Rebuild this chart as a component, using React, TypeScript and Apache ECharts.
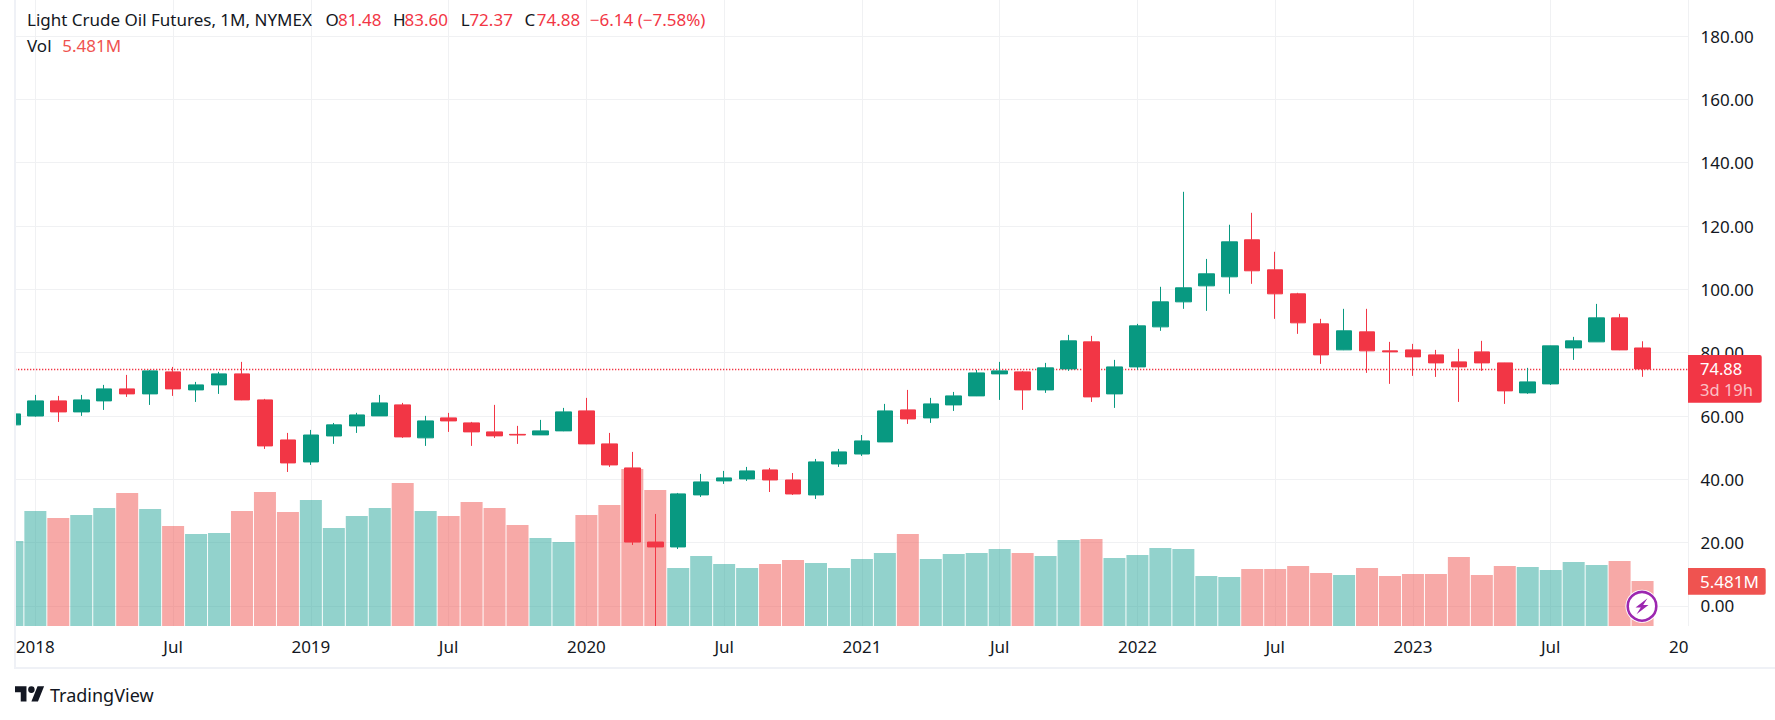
import React, { useEffect, useRef } from "react";
import * as echarts from "echarts";

const months = [
  "2017-12",
  "2018-01", "2018-02", "2018-03", "2018-04", "2018-05", "2018-06", "2018-07", "2018-08", "2018-09", "2018-10", "2018-11", "2018-12",
  "2019-01", "2019-02", "2019-03", "2019-04", "2019-05", "2019-06", "2019-07", "2019-08", "2019-09", "2019-10", "2019-11", "2019-12",
  "2020-01", "2020-02", "2020-03", "2020-04", "2020-05", "2020-06", "2020-07", "2020-08", "2020-09", "2020-10", "2020-11", "2020-12",
  "2021-01", "2021-02", "2021-03", "2021-04", "2021-05", "2021-06", "2021-07", "2021-08", "2021-09", "2021-10", "2021-11", "2021-12",
  "2022-01", "2022-02", "2022-03", "2022-04", "2022-05", "2022-06", "2022-07", "2022-08", "2022-09", "2022-10", "2022-11", "2022-12",
  "2023-01", "2023-02", "2023-03", "2023-04", "2023-05", "2023-06", "2023-07", "2023-08", "2023-09", "2023-10", "2023-11",
];
const opens = [
  57.2,
  60.0, 64.77, 61.29, 64.77, 68.56, 66.98, 73.93, 68.24, 69.82, 73.3, 65.08, 52.44,
  45.49, 53.7, 56.87, 60.03, 63.51, 53.1, 59.4, 57.82, 54.98, 54.2, 54.03, 55.3,
  61.61, 51.19, 43.6, 20.2, 18.65, 35.08, 39.5, 40.13, 42.97, 39.8, 35.07, 44.86,
  48.0, 51.81, 61.93, 59.4, 63.5, 66.35, 73.3, 73.93, 68.24, 74.88, 83.41, 66.98,
  75.5, 88.15, 96.05, 101.1, 103.95, 115.64, 106.16, 98.58, 89.1, 80.89, 86.57, 80.57,
  80.88, 79.3, 77.09, 80.25, 76.77, 67.3, 70.14, 81.5, 83.41, 90.99, 81.48,
];
const highs = [
  60.7,
  66.66, 66.35, 66.66, 69.82, 72.98, 74.56, 75.5, 70.77, 73.93, 77.09, 65.4, 54.66,
  55.6, 57.8, 61.0, 66.66, 64.14, 60.04, 60.98, 58.14, 63.51, 56.88, 58.77, 62.56,
  65.72, 54.66, 48.66, 29.07, 35.7, 41.71, 42.66, 43.92, 43.6, 42.0, 46.44, 49.6,
  54.0, 63.82, 68.24, 65.72, 67.6, 74.56, 77.09, 74.25, 76.77, 85.62, 85.3, 77.72,
  89.1, 100.8, 130.8, 109.6, 120.4, 124.17, 111.85, 98.9, 90.68, 93.84, 93.84, 83.41,
  82.78, 80.88, 81.2, 83.73, 76.8, 75.2, 82.2, 84.99, 95.4, 92.26, 83.6,
];
const lows = [
  56.1,
  59.8, 58.13, 60.03, 61.92, 66.03, 63.5, 66.35, 64.45, 66.98, 65.0, 49.6, 42.33,
  44.55, 51.2, 54.66, 60.0, 53.08, 50.56, 54.98, 50.56, 53.08, 51.19, 54.0, 55.2,
  51.1, 43.92, 19.27, -6.3, 18.0, 34.44, 38.55, 39.5, 36.0, 35.07, 33.8, 43.92,
  47.39, 51.8, 57.5, 57.82, 61.6, 66.3, 65.08, 61.92, 67.3, 74.25, 64.45, 62.56,
  74.56, 86.9, 93.84, 93.2, 98.6, 101.74, 90.68, 85.94, 76.46, 80.8, 73.62, 70.15,
  72.67, 72.35, 64.45, 74.25, 63.82, 67.0, 69.8, 77.72, 83.4, 80.8, 72.37,
];
const closes = [
  60.66,
  64.77, 61.29, 65.08, 68.56, 66.98, 74.25, 68.56, 69.82, 73.3, 65.08, 50.55, 45.18,
  54.0, 57.2, 60.34, 64.13, 53.4, 58.45, 58.45, 54.98, 53.72, 54.0, 55.3, 61.3,
  51.19, 44.55, 20.2, 18.65, 35.4, 39.18, 40.45, 42.66, 39.8, 35.38, 45.5, 48.66,
  52.13, 61.6, 59.08, 63.82, 66.35, 73.6, 74.25, 68.24, 75.2, 83.73, 66.03, 75.5,
  88.47, 96.05, 100.48, 104.9, 115.0, 105.85, 98.58, 89.42, 79.3, 86.9, 80.57, 80.25,
  78.67, 76.77, 75.51, 76.77, 67.93, 70.77, 82.15, 83.73, 90.99, 80.88, 74.88,
];
const volumesM = [
  10.35,
  14.01, 13.15, 13.52, 14.37, 16.2, 14.25, 12.18, 11.21, 11.33, 14.01, 16.32, 13.89,
  15.35, 11.94, 13.4, 14.37, 17.42, 14.01, 13.4, 15.1, 14.37, 12.3, 10.72, 10.23,
  13.52, 14.74, 19.12, 16.57, 7.06, 8.53, 7.55, 7.06, 7.55, 8.04, 7.67, 7.06,
  8.16, 8.89, 11.21, 8.16, 8.77, 8.89, 9.38, 8.89, 8.53, 10.48, 10.6, 8.28,
  8.65, 9.5, 9.38, 6.09, 5.97, 6.94, 6.94, 7.31, 6.46, 6.21, 7.06, 6.09,
  6.33, 6.33, 8.4, 6.21, 7.31, 7.19, 6.82, 7.8, 7.43, 7.92, 5.481,
];
const xTickMonths = [
  "2018-01", "2018-07", "2019-01", "2019-07", "2020-01", "2020-07", "2021-01", "2021-07",
  "2022-01", "2022-07", "2023-01", "2023-07", "2024-01",
];
const xTickLabels = ["2018", "Jul", "2019", "Jul", "2020", "Jul", "2021", "Jul", "2022", "Jul", "2023", "Jul", "20"];
const priceTicks = [0, 20, 40, 60, 80, 100, 120, 140, 160, 180];

const lastPrice = 74.88;
const UP = "#089981";
const DOWN = "#f23645";
const VOL_UP = "rgba(38,166,154,0.5)";
const VOL_DOWN = "rgba(239,83,80,0.5)";
const GRID = "#f0f1f3";
const INK = "#131722";
const FONT = "'Noto Sans', sans-serif";

const monthPos = (m: string) => {
  const [y, mo] = m.split("-").map(Number);
  return (y - 2018) * 12 + (mo - 1);
};
const xTickValues = xTickMonths.map(monthPos);

echarts.graphic.registerShape(
  "tvLogo",
  echarts.graphic.extendPath(
    "M14 22H7V11H0V4h14v18zM28 22h-8l7.5-18h8L28 22zM16 8a4 4 0 1 0 8 0a4 4 0 1 0-8 0z",
    {}
  )
);

const headerTexts: [string, number, number, string][] = [
  ["Light Crude Oil Futures, 1M, NYMEX", 27, 19, INK],
  ["O", 325.5, 19, INK],
  ["81.48", 338, 19, DOWN],
  ["H", 393, 19, INK],
  ["83.60", 404.6, 19, DOWN],
  ["L", 460.7, 19, INK],
  ["72.37", 469.4, 19, DOWN],
  ["C", 524.5, 19, INK],
  ["74.88", 536.7, 19, DOWN],
  ["−6.14 (−7.58%)", 589.8, 19, DOWN],
  ["Vol", 27, 45.5, INK],
  ["5.481M", 62.2, 45.5, "#ef5350"],
];

export default function App() {
  const ref = useRef<HTMLDivElement>(null);
  useEffect(() => {
    if (!ref.current) return;
    const chart = echarts.init(ref.current, undefined, { renderer: "svg" });
    const candleData = months.map((m, i) => [monthPos(m), opens[i], closes[i], lows[i], highs[i]]);
    const volData = months.map((m, i) => ({
      value: [monthPos(m), volumesM[i]],
      itemStyle: { color: closes[i] >= opens[i] ? VOL_UP : VOL_DOWN },
    }));
    const txt = (text: string, x: number, y: number, fill: string, fontSize = 17, z = 100) => ({
      type: "text",
      x,
      y,
      z,
      silent: true,
      style: { text, fill, fontSize, fontFamily: FONT, align: "left", verticalAlign: "middle" },
    });
    const option: any = {
      animation: false,
      backgroundColor: "#ffffff",
      grid: { left: 15, top: 0, width: 1673.47, height: 626, containLabel: false },
      xAxis: {
        type: "value",
        min: -0.8863,
        max: 72,
        axisLine: { show: false },
        axisTick: { show: false, customValues: xTickValues },
        splitLine: { show: true, lineStyle: { color: GRID, width: 1 } },
        axisLabel: {
          customValues: xTickValues,
          hideOverlap: false,
          margin: 12,
          color: INK,
          fontFamily: FONT,
          fontSize: 17,
          formatter: (v: number) => {
            const i = xTickValues.indexOf(v);
            const s = xTickLabels[i] ?? "";
            return i === xTickValues.length - 1 ? `{clip|${s}}` : s;
          },
          rich: {
            clip: { color: INK, fontFamily: FONT, fontSize: 17, padding: [0, 19.4, 0, 0] },
          },
        },
      },
      yAxis: [
        {
          type: "value",
          position: "right",
          min: -6.316,
          max: 191.37,
          axisLine: { show: false },
          axisTick: { show: false, customValues: priceTicks },
          splitLine: { show: true, lineStyle: { color: GRID, width: 1 } },
          axisLabel: {
            customValues: priceTicks,
            margin: 12,
            color: INK,
            fontFamily: FONT,
            fontSize: 17,
            padding: [0, 0, 2, 0],
            formatter: (v: number) => v.toFixed(2),
          },
        },
        {
          type: "value",
          position: "right",
          min: 0,
          max: 76.25,
          show: false,
          splitLine: { show: false },
        },
      ],
      series: [
        {
          type: "bar",
          yAxisIndex: 1,
          barWidth: 22,
          data: volData,
          z: 1,
          silent: true,
          clip: true,
        },
        {
          type: "candlestick",
          yAxisIndex: 0,
          barWidth: 16,
          data: candleData,
          z: 3,
          silent: true,
          clip: true,
          itemStyle: {
            color: UP,
            color0: DOWN,
            borderColor: UP,
            borderColor0: DOWN,
            borderWidth: 1,
          },
          markLine: {
            silent: true,
            z: 2,
            symbol: "none",
            label: { show: false },
            lineStyle: { color: DOWN, type: [1.3, 1.7], width: 1.3 },
            data: [{ yAxis: lastPrice }],
          },
        },
      ],
      graphic: {
        elements: [
          { type: "rect", z: 85, silent: true, shape: { x: 0, y: 0, width: 14.5, height: 720 }, style: { fill: "#ffffff" } },
          { type: "rect", z: 90, silent: true, shape: { x: 14, y: 0, width: 2, height: 668 }, style: { fill: "#eff1f6" } },
          { type: "rect", z: 90, silent: true, shape: { x: 14, y: 667, width: 1761, height: 2 }, style: { fill: "#eff1f6" } },
          ...headerTexts.map(([t, x, y, c]) => txt(t, x, y, c)),
          {
            type: "rect",
            z: 95,
            silent: true,
            shape: { x: 1688, y: 355, width: 73.7, height: 47.7, r: [0, 2, 2, 0] },
            style: { fill: DOWN },
          },
          txt(lastPrice.toFixed(2), 1700, 368, "#ffffff", 16.5),
          txt("3d 19h", 1700, 389, "rgba(255,255,255,0.7)", 16.5),
          {
            type: "rect",
            z: 95,
            silent: true,
            shape: { x: 1688, y: 568, width: 77.7, height: 26.7, r: [0, 2, 2, 0] },
            style: { fill: "#ef5350" },
          },
          txt("5.481M", 1700, 581, "#ffffff"),
          { type: "circle", z: 96, silent: true, shape: { cx: 1642, cy: 606.3, r: 16.5 }, style: { fill: "#ffffff" } },
          {
            type: "circle",
            z: 97,
            silent: true,
            shape: { cx: 1642, cy: 606.3, r: 14.3 },
            style: { fill: "#ffffff", stroke: "#9c27b0", lineWidth: 2.6 },
          },
          {
            type: "polygon",
            z: 98,
            silent: true,
            shape: {
              points: [
                [1647.5, 598.3],
                [1635.5, 607.5],
                [1640.8, 607.5],
                [1636.5, 614.3],
                [1648.5, 605],
                [1643.2, 605],
              ],
            },
            style: { fill: "#9c27b0" },
          },
          { type: "tvLogo", z: 100, silent: true, x: 15, y: 682.7, scaleX: 0.82, scaleY: 0.86, style: { fill: INK } },
          txt("TradingView", 50, 695, INK, 18),
        ],
      },
    };
    chart.setOption(option);
    return () => chart.dispose();
  }, []);
  return <div ref={ref} style={{ position: "absolute", left: 0, top: 0, width: 1775, height: 720 }} />;
}
